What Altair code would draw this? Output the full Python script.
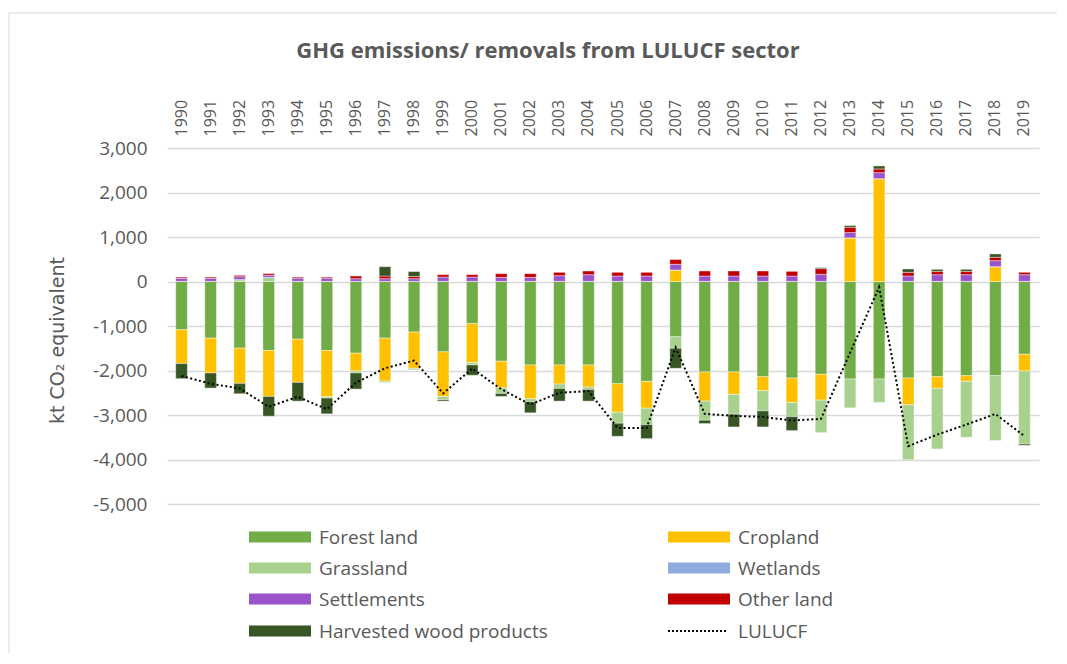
import altair as alt
import pandas as pd

years = [str(y) for y in range(1990, 2020)]

forest = [-1084, -1273, -1498, -1551, -1295, -1551, -1611, -1273, -1137, -1581,
          -949, -1792, -1875, -1875, -1875, -2297, -2244, -1242, -2033, -2033,
          -2139, -2169, -2086, -2191, -2191, -2169, -2139, -2116, -2116, -1635]
cropland = [-761, -783, -791, -1032, -972, -1039, -399, -963, -813, -1002,
            -873, -595, -760, -429, -497, -640, -602, 256, -655, -505,
            -316, -549, -580, 977, 2308, -602, -263, -128, 331, -376]
grassland = [0, 0, 40, 90, 0, -30, -45, -30, -35, -75,
             -53, -128, -68, -98, -53, -248, -369, -256, -429, -444,
             -452, -316, -730, -648, -526, -1233, -1361, -1256, -1459, -1639]
wetlands = [3] * 30
settlements = [70, 70, 65, 50, 70, 70, 60, 60, 60, 98,
               98, 90, 90, 128, 150, 120, 120, 128, 120, 120,
               120, 120, 158, 120, 135, 120, 150, 150, 135, 150]
other_land = [25, 25, 30, 35, 25, 25, 60, 60, 50, 53,
              53, 83, 83, 75, 83, 83, 83, 105, 113, 113,
              113, 105, 128, 120, 83, 83, 75, 75, 75, 53]
hwp = [-339, -339, -234, -444, -421, -354, -362, 210, 110, -30,
       -233, -68, -248, -286, -263, -294, -316, -452, -75, -286,
       -361, -316, 23, 38, 68, 75, 45, 45, 75, -30]
lulucf = [-2123, -2297, -2402, -2816, -2590, -2869, -2274, -1950, -1777, -2515,
          -1958, -2420, -2764, -2500, -2462, -3290, -3290, -1483, -2974, -3020,
          -3042, -3125, -3087, -1600, -128, -3700, -3440, -3215, -2977, -3474]

series_names = ["Forest land", "Cropland", "Grassland", "Wetlands",
                "Settlements", "Other land", "Harvested wood products"]
series_colors = ["#70AD47", "#FFC000", "#A9D18E", "#8FAADC",
                 "#9954CC", "#C00000", "#375623"]
series_values = [forest, cropland, grassland, wetlands, settlements, other_land, hwp]

rows = []
for si, (name, vals) in enumerate(zip(series_names, series_values)):
    for yr, v in zip(years, vals):
        rows.append({"year": yr, "series": name, "value": v, "order": si})
df = pd.DataFrame(rows)
line_df = pd.DataFrame({"year": years, "value": lulucf})

W, H = 872, 356
TXT = "#595959"
FONT = "Open Sans"

xscale = alt.Scale(domain=years, paddingInner=0.6, paddingOuter=0.3)
yscale = alt.Scale(domain=[-5000, 3000], nice=False, zero=False)

x_axis = alt.Axis(orient="top", title=None, labelAngle=270, labelAlign="left",
                  labelBaseline="middle", labelPadding=12, ticks=False, domain=False,
                  grid=False, labelFont=FONT, labelFontSize=16, labelColor=TXT)
y_axis = alt.Axis(values=list(range(-5000, 3001, 1000)),
                  labelExpr="(datum.value < 0 ? '-' : '') + format(abs(datum.value), ',')",
                  title="kt CO\u2082 equivalent", grid=True, gridColor="#D9D9D9",
                  gridWidth=1.3, domain=False, ticks=False, labelPadding=20,
                  labelFont=FONT, labelFontSize=19, labelColor=TXT,
                  titleFont="DejaVu Sans", titleFontSize=19, titleFontWeight="normal",
                  titleColor=TXT, titleAngle=270, titleX=-104, titleY=192,
                  titleAlign="center", titleBaseline="alphabetic")

bars = alt.Chart(df).mark_bar(stroke="white", strokeOpacity=0.5, strokeWidth=0.8).encode(
    x=alt.X("year:N", scale=xscale, sort=years, axis=x_axis),
    y=alt.Y("value:Q", scale=yscale, stack="zero", axis=y_axis),
    color=alt.Color("series:N", scale=alt.Scale(domain=series_names, range=series_colors),
                    legend=None),
    order=alt.Order("order:Q", sort="ascending"),
)

line = alt.Chart(line_df).mark_line(color="black", strokeDash=[2, 2.5], strokeWidth=2).encode(
    x=alt.X("year:N", scale=xscale, sort=years, axis=x_axis),
    y=alt.Y("value:Q", scale=yscale, axis=y_axis),
)

one = pd.DataFrame({"a": [0]})
layers = [bars, line]

# manual legend (two columns, four rows)
leg_left = [("Forest land", "#70AD47"), ("Grassland", "#A9D18E"),
            ("Settlements", "#9954CC"), ("Harvested wood products", "#375623")]
leg_right = [("Cropland", "#FFC000"), ("Wetlands", "#8FAADC"), ("Other land", "#C00000")]
row_y = [389, 420, 451, 483]
for col_x, items in ((82, leg_left), (501, leg_right)):
    for i, (name, colr) in enumerate(items):
        yy = row_y[i]
        layers.append(alt.Chart(one).mark_rect(color=colr).encode(
            x=alt.value(col_x), x2=alt.value(col_x + 62),
            y=alt.value(yy - 5.5), y2=alt.value(yy + 5.5)))
        layers.append(alt.Chart(one).mark_text(
            align="left", baseline="middle", font=FONT, fontSize=19, color=TXT).encode(
            x=alt.value(col_x + 70), y=alt.value(yy + 1), text=alt.value(name)))
# LULUCF legend entry
layers.append(alt.Chart(one).mark_rule(color="black", strokeDash=[2, 2], strokeWidth=2).encode(
    x=alt.value(501), x2=alt.value(561), y=alt.value(row_y[3])))
layers.append(alt.Chart(one).mark_text(
    align="left", baseline="middle", font=FONT, fontSize=19, color=TXT).encode(
    x=alt.value(571), y=alt.value(row_y[3] + 1), text=alt.value("LULUCF")))

# chart title
layers.append(alt.Chart(one).mark_text(
    align="center", baseline="alphabetic", font=FONT, fontSize=22, fontWeight="bold",
    color=TXT).encode(x=alt.value(381), y=alt.value(-90),
                      text=alt.value("GHG emissions/ removals from LULUCF sector")))

# chart frame (top and left edges)
layers.append(alt.Chart(one).mark_rule(color="#D9D9D9", strokeWidth=1).encode(
    x=alt.value(-158), x2=alt.value(890), y=alt.value(-135)))
layers.append(alt.Chart(one).mark_rule(color="#D9D9D9", strokeWidth=1).encode(
    x=alt.value(-158), y=alt.value(-135), y2=alt.value(505)))

chart = alt.layer(*layers).properties(
    width=W, height=H,
    padding={"left": 0, "top": 4, "right": 0, "bottom": 0},
    background="white",
).configure_view(stroke=None)

chart.save("out.html", embed_options={"renderer": "svg", "actions": False})
